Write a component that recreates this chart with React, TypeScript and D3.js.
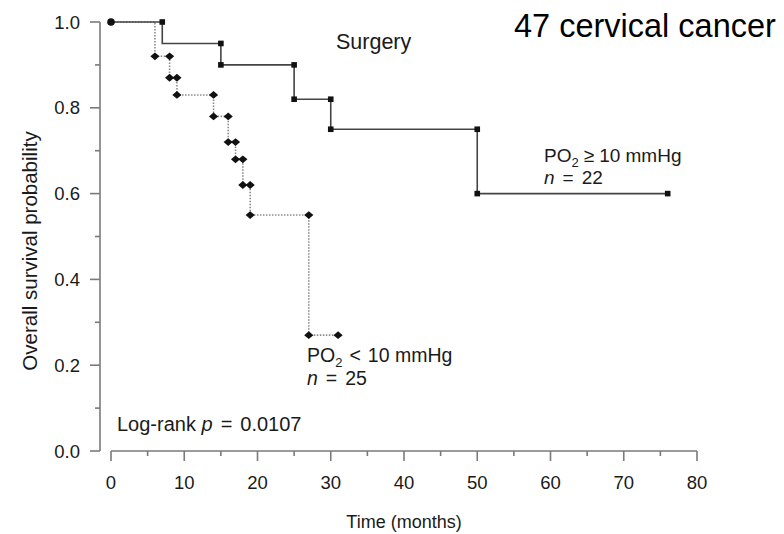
import React from "react";
import * as d3 from "d3";

// Kaplan–Meier step points: [time (months), survival probability, marker shown]
const highPO2: [number, number, boolean][] = [
  [0, 1.0, false],
  [7, 1.0, true],
  [7, 0.95, false],
  [15, 0.95, true],
  [15, 0.9, true],
  [25, 0.9, true],
  [25, 0.82, true],
  [30, 0.82, true],
  [30, 0.75, true],
  [50, 0.75, true],
  [50, 0.6, true],
  [76, 0.6, true],
];

const lowPO2: [number, number, boolean][] = [
  [0, 1.0, false],
  [6, 1.0, false],
  [6, 0.92, true],
  [8, 0.92, true],
  [8, 0.87, true],
  [9, 0.87, true],
  [9, 0.83, true],
  [14, 0.83, true],
  [14, 0.78, true],
  [16, 0.78, true],
  [16, 0.72, true],
  [17, 0.72, true],
  [17, 0.68, true],
  [18, 0.68, true],
  [18, 0.62, true],
  [19, 0.62, true],
  [19, 0.55, true],
  [27, 0.55, true],
  [27, 0.27, true],
  [31, 0.27, true],
];

const xTicks = [0, 10, 20, 30, 40, 50, 60, 70, 80];
const xMinor = [5, 15, 25, 35, 45, 55, 65, 75];
const yTicks = [0, 0.2, 0.4, 0.6, 0.8, 1.0];
const yMinor = [0.1, 0.3, 0.5, 0.7, 0.9];

const W = 784;
const H = 534;
const FONT = "'Liberation Sans', Arial, Helvetica, sans-serif";
const AXIS = "#7a7a7a";
const TEXT = "#1a1a1a";
const TICK_FS = 18.5;
const NOTE_FS = 19.5;

// wide diamond marker
const DIAMOND = "M-4.6,0L0,-3.9L4.6,0L0,3.9Z";

export default function App() {
  const x = d3.scaleLinear().domain([0, 80]).range([111, 697]);
  const y = d3.scaleLinear().domain([0, 1]).range([451, 22]);
  const yAxisX = 100;

  const line = d3
    .line<[number, number, boolean]>()
    .x((d) => x(d[0]))
    .y((d) => y(d[1]));

  return (
    <svg
      width={W}
      height={H}
      style={{ position: "absolute", left: 0, top: 0, background: "#fff" }}
      fontFamily={FONT}
    >
      {/* y axis */}
      <line x1={yAxisX} x2={yAxisX} y1={y(1)} y2={y(0)} stroke={AXIS} strokeWidth={1.6} />
      {yTicks.map((t) => (
        <g key={"yt" + t}>
          <line x1={yAxisX - 10} x2={yAxisX} y1={y(t)} y2={y(t)} stroke={AXIS} strokeWidth={1.6} />
          <text
            x={80}
            y={y(t)}
            dy="0.36em"
            textAnchor="end"
            fontSize={TICK_FS}
            fill={TEXT}
          >
            {d3.format(".1f")(t)}
          </text>
        </g>
      ))}
      {yMinor.map((t) => (
        <line key={"ym" + t} x1={yAxisX - 5} x2={yAxisX} y1={y(t)} y2={y(t)} stroke={AXIS} strokeWidth={1.6} />
      ))}

      {/* x axis */}
      <line x1={x(0)} x2={x(80)} y1={451} y2={451} stroke={AXIS} strokeWidth={1.6} />
      {xTicks.map((t) => (
        <g key={"xt" + t}>
          <line x1={x(t)} x2={x(t)} y1={451} y2={461} stroke={AXIS} strokeWidth={1.6} />
          <text x={x(t)} y={489} textAnchor="middle" fontSize={TICK_FS} fill={TEXT}>
            {t}
          </text>
        </g>
      ))}
      {xMinor.map((t) => (
        <line key={"xm" + t} x1={x(t)} x2={x(t)} y1={451} y2={456} stroke={AXIS} strokeWidth={1.6} />
      ))}

      {/* axis titles */}
      <text x={404} y={528} textAnchor="middle" fontSize={18} fill={TEXT}>
        Time (months)
      </text>
      <text
        transform="translate(37,251) rotate(-90)"
        textAnchor="middle"
        fontSize={20.5}
        fill={TEXT}
      >
        Overall survival probability
      </text>

      {/* PO2 < 10 mmHg curve (dotted) */}
      <path
        d={line(lowPO2) ?? ""}
        fill="none"
        stroke="#8a8a8a"
        strokeWidth={1.6}
        strokeDasharray="1.5,1.5"
      />
      {lowPO2
        .filter((d) => d[2])
        .map((d, i) => (
          <path
            key={"lo" + i}
            d={DIAMOND}
            transform={`translate(${x(d[0])},${y(d[1])})`}
            fill="#111"
          />
        ))}

      {/* PO2 >= 10 mmHg curve (solid) */}
      <path d={line(highPO2) ?? ""} fill="none" stroke="#444" strokeWidth={1.6} />
      {highPO2
        .filter((d) => d[2])
        .map((d, i) => (
          <rect
            key={"hi" + i}
            x={x(d[0]) - 2.8}
            y={y(d[1]) - 2.8}
            width={5.6}
            height={5.6}
            fill="#111"
          />
        ))}

      {/* shared starting point */}
      <circle cx={x(highPO2[0][0])} cy={y(highPO2[0][1])} r={3.8} fill="#111" />

      {/* annotations */}
      <text x={336} y={49} fontSize={21.5} fill={TEXT}>
        Surgery
      </text>
      <text x={514} y={37} fontSize={32.5} fill="#000">
        47 cervical cancer
      </text>

      <text x={544} y={162} fontSize={19} fill={TEXT}>
        PO<tspan dy={5} fontSize={13}>2</tspan>
        <tspan dy={-5} dx={5}>≥</tspan>
        <tspan dx={5}>10 mmHg</tspan>
      </text>
      <text x={544} y={184} fontSize={19} fill={TEXT}>
        <tspan fontStyle="italic">n</tspan>
        <tspan dx={8}>=</tspan>
        <tspan dx={8}>22</tspan>
      </text>

      <text x={307} y={362} fontSize={NOTE_FS} fill={TEXT}>
        PO<tspan dy={5} fontSize={13}>2</tspan>
        <tspan dy={-5} dx={7}>&lt;</tspan>
        <tspan dx={7}>10 mmHg</tspan>
      </text>
      <text x={307} y={385} fontSize={NOTE_FS} fill={TEXT}>
        <tspan fontStyle="italic">n</tspan>
        <tspan dx={8}>=</tspan>
        <tspan dx={8}>25</tspan>
      </text>

      <text x={117} y={431} fontSize={20} fill={TEXT}>
        Log-rank <tspan fontStyle="italic">p</tspan>
        <tspan dx={8}>=</tspan>
        <tspan dx={8}>0.0107</tspan>
      </text>
    </svg>
  );
}
